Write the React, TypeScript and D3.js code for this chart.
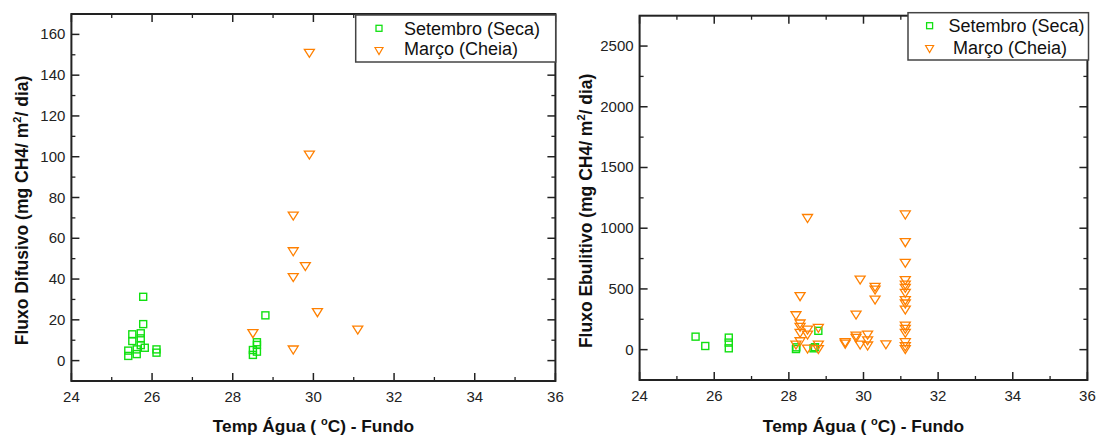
import React from "react";
import * as d3 from "d3";

// ---- Data ----
const xTicks = [24, 26, 28, 30, 32, 34, 36];

// Left panel: Fluxo Difusivo
const difSepTemp = [25.78, 25.78, 25.51, 25.72, 25.51, 25.72, 25.41, 25.41, 25.62, 25.62, 25.72, 25.82, 26.11, 26.11, 28.81, 28.6, 28.6, 28.6, 28.5, 28.5];
const difSepFlux = [31.3, 17.9, 12.9, 13.4, 9.6, 10.9, 4.9, 2.3, 5.5, 3.2, 7.6, 6.3, 5.5, 3.9, 22.2, 9.0, 7.7, 4.4, 5.2, 2.8];
const difMarTemp = [29.9, 29.9, 29.5, 29.5, 29.8, 29.5, 30.1, 31.1, 28.5, 29.5];
const difMarFlux = [150.7, 100.8, 70.9, 53.4, 46.1, 40.7, 23.5, 15.0, 13.2, 5.2];
const difYTicks = [0, 20, 40, 60, 80, 100, 120, 140, 160];

// Right panel: Fluxo Ebulitivo
const ebuSepTemp = [25.5, 25.76, 26.39, 26.39, 26.39, 28.19, 28.2, 28.66, 28.79, 28.7];
const ebuSepFlux = [107, 30, 99, 58, 11, 5, 19, 11, 155, 20];
const ebuMarTemp = [
  28.5,
  31.12, 31.12, 31.12, 31.12, 31.12, 31.12, 31.12, 31.12, 31.12, 31.12, 31.12, 31.12, 31.12, 31.12, 31.12, 31.12,
  29.91, 30.31, 30.31, 30.31, 29.8, 28.3, 28.19, 28.3, 28.3, 28.3, 28.5, 28.5, 28.79,
  28.19, 28.3, 28.5, 28.79, 28.79, 29.51, 29.51, 29.8, 29.8, 29.91, 30.11, 30.11, 30.11, 30.6,
];
const ebuMarFlux = [
  1080,
  1109, 881, 711, 568, 532, 505, 464, 403, 376, 326, 194, 167, 134, 57, 24, 0,
  573, 513, 490, 408, 285, 436, 279, 211, 184, 134, 161, 120, 175,
  38, 65, 5, 38, 0, 57, 45, 112, 93, 38, 120, 73, 30, 40,
];
const ebuYTicks = [0, 500, 1000, 1500, 2000, 2500];

const legendLabels = ["Setembro (Seca)", "Março (Cheia)"];

const GREEN = "#11e011";
const ORANGE = "#ff8000";
const FONT = "'Liberation Sans', Arial, Helvetica, sans-serif";

type PanelProps = {
  x0: number; x1: number; yTop: number; yBot: number;
  yDomain: [number, number]; yTicks: number[]; yMinorStep: number;
  sepT: number[]; sepV: number[]; marT: number[]; marV: number[];
  yTitle: string; yTitleX: number;
  legend: { x: number; y: number; w: number; h: number; mx: number; my: number[]; tx: number[]; ty: number[] };
};

function Panel(p: PanelProps) {
  const xs = d3.scaleLinear().domain([24, 36]).range([p.x0, p.x1]);
  const ys = d3.scaleLinear().domain(p.yDomain).range([p.yBot, p.yTop]);
  const xMinor = d3.range(25, 36, 2);
  const yMinor = d3.range(p.yDomain[0], p.yDomain[1] + 1e-9, p.yMinorStep).filter((v) => !p.yTicks.includes(v) && v > p.yDomain[0] && v < p.yDomain[1]);
  const MAJ = 8, MIN = 4;
  const tickStroke = "#222";
  const tri = "M-5,-4L5,-4L0,4Z";
  const cx = (p.x0 + p.x1) / 2;
  const cy = (p.yTop + p.yBot) / 2 + 13;
  return (
    <g>
      {xTicks.map((t) => (
        <g key={"xt" + t}>
          <line x1={xs(t)} x2={xs(t)} y1={p.yBot} y2={p.yBot - MAJ} stroke={tickStroke} strokeWidth={1.5} />
          <line x1={xs(t)} x2={xs(t)} y1={p.yTop} y2={p.yTop + MAJ} stroke={tickStroke} strokeWidth={1.5} />
          <text x={xs(t)} y={p.yBot + 21} textAnchor="middle" fontSize={15} fontFamily={FONT} fill="#222">{t}</text>
        </g>
      ))}
      {xMinor.map((t) => (
        <g key={"xm" + t}>
          <line x1={xs(t)} x2={xs(t)} y1={p.yBot} y2={p.yBot - MIN} stroke={tickStroke} strokeWidth={1.3} />
          <line x1={xs(t)} x2={xs(t)} y1={p.yTop} y2={p.yTop + MIN} stroke={tickStroke} strokeWidth={1.3} />
        </g>
      ))}
      {p.yTicks.map((v) => (
        <g key={"yt" + v}>
          <line x1={p.x0} x2={p.x0 + MAJ} y1={ys(v)} y2={ys(v)} stroke={tickStroke} strokeWidth={1.5} />
          <line x1={p.x1} x2={p.x1 - MAJ} y1={ys(v)} y2={ys(v)} stroke={tickStroke} strokeWidth={1.5} />
          <text x={p.x0 - 6} y={ys(v) + 5} textAnchor="end" fontSize={15} fontFamily={FONT} fill="#222">{v}</text>
        </g>
      ))}
      {yMinor.map((v) => (
        <g key={"ym" + v}>
          <line x1={p.x0} x2={p.x0 + MIN} y1={ys(v)} y2={ys(v)} stroke={tickStroke} strokeWidth={1.3} />
          <line x1={p.x1} x2={p.x1 - MIN} y1={ys(v)} y2={ys(v)} stroke={tickStroke} strokeWidth={1.3} />
        </g>
      ))}
      <rect x={p.x0} y={p.yTop} width={p.x1 - p.x0} height={p.yBot - p.yTop} fill="none" stroke="#222" strokeWidth={2} />
      {p.sepT.map((t, i) => (
        <rect key={"s" + i} x={xs(t) - 3.5} y={ys(p.sepV[i]) - 3.5} width={7} height={7} fill="none" stroke={GREEN} strokeWidth={1.4} />
      ))}
      {p.marT.map((t, i) => (
        <path key={"m" + i} d={tri} transform={`translate(${xs(t)},${ys(p.marV[i])})`} fill="none" stroke={ORANGE} strokeWidth={1.3} />
      ))}
      <rect x={p.legend.x} y={p.legend.y} width={p.legend.w} height={p.legend.h} fill="white" stroke="#444" strokeWidth={1.5} />
      <rect x={p.legend.mx - 3} y={p.legend.my[0] - 3} width={6} height={6} fill="none" stroke={GREEN} strokeWidth={1.3} />
      <path d="M-4,-3.5L4,-3.5L0,3.5Z" transform={`translate(${p.legend.mx},${p.legend.my[1]})`} fill="none" stroke={ORANGE} strokeWidth={1.2} />
      {legendLabels.map((l, i) => (
        <text key={l} x={p.legend.tx[i]} y={p.legend.ty[i]} fontSize={18} fontFamily={FONT} fill="#111">{l}</text>
      ))}
      <text transform={`translate(${p.yTitleX},${cy}) rotate(-90)`} textAnchor="middle" fontSize={17.5} fontWeight="bold" fontFamily={FONT} fill="#111">
        {p.yTitle}
        <tspan dy={-7} fontSize={11}>2</tspan>
        <tspan dy={7}>/ dia)</tspan>
      </text>
      <text x={cx} y={432} textAnchor="middle" fontSize={17.3} fontWeight="bold" fontFamily={FONT} fill="#111">
        {"Temp Água ( "}
        <tspan dy={-7} fontSize={11}>o</tspan>
        <tspan dy={7}>{"C) - Fundo"}</tspan>
      </text>
    </g>
  );
}

export default function App() {
  return (
    <svg width={1098} height={435} style={{ position: "absolute", left: 0, top: 0, background: "white" }}>
      <rect x={0} y={0} width={1098} height={435} fill="white" />
      <Panel
        x0={71.4} x1={555.4} yTop={14} yBot={381}
        yDomain={[-10, 170]} yTicks={difYTicks} yMinorStep={10}
        sepT={difSepTemp} sepV={difSepFlux} marT={difMarTemp} marV={difMarFlux}
        yTitle="Fluxo Difusivo (mg CH4/ m" yTitleX={28}
        legend={{ x: 355.7, y: 15, w: 200, h: 47, mx: 379, my: [28.3, 51], tx: [404, 404], ty: [35, 55] }}
      />
      <Panel
        x0={639.6} x1={1087.4} yTop={15.7} yBot={380}
        yDomain={[-250, 2750]} yTicks={ebuYTicks} yMinorStep={250}
        sepT={ebuSepTemp} sepV={ebuSepFlux} marT={ebuMarTemp} marV={ebuMarFlux}
        yTitle="Fluxo Ebulitivo (mg CH4/ m" yTitleX={592}
        legend={{ x: 908, y: 12.7, w: 180.5, h: 47.3, mx: 929.6, my: [25.7, 49], tx: [948.5, 953], ty: [32.3, 54.3] }}
      />
    </svg>
  );
}
